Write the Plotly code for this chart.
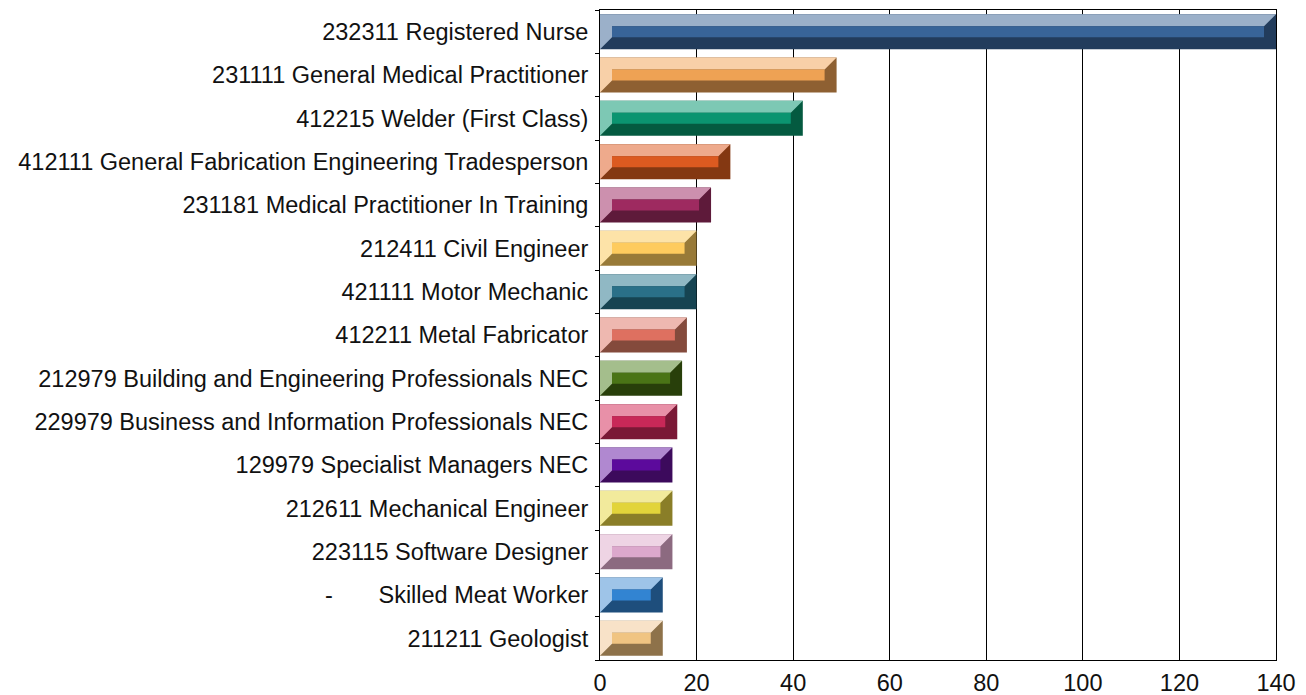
import plotly.graph_objects as go

categories = [
    "232311 Registered Nurse",
    "231111 General Medical Practitioner",
    "412215 Welder (First Class)",
    "412111 General Fabrication Engineering Tradesperson",
    "231181 Medical Practitioner In Training",
    "212411 Civil Engineer",
    "421111 Motor Mechanic",
    "412211 Metal Fabricator",
    "212979 Building and Engineering Professionals NEC",
    "229979 Business and Information Professionals NEC",
    "129979 Specialist Managers NEC",
    "212611 Mechanical Engineer",
    "223115 Software Designer",
    "-\u00a0\u00a0\u00a0\u00a0\u00a0\u00a0\u00a0Skilled Meat Worker",
    "211211 Geologist",
]
values = [140, 49, 42, 27, 23, 20, 20, 18, 17, 16, 15, 15, 15, 13, 13]

light_colors = ["#9BB0C9", "#F8D0A8", "#7DC8B4", "#EEAA8C", "#CC90AE", "#FDE3A8", "#90B8C4", "#EEB8B0",
                "#A4BE8C", "#E890A8", "#B088D0", "#F2EA9C", "#EED4E4", "#9EC4E8", "#F8E2C8"]
main_colors = ["#386498", "#EEA254", "#0B9470", "#DC5A20", "#9E2A60", "#FECB5E", "#2A7088", "#DE7060",
               "#4A7416", "#C82858", "#5C0A9C", "#E2D43A", "#DCA8CC", "#3284D2", "#F0C482"]
dark_colors = ["#223C5C", "#8E6032", "#045A40", "#843812", "#5E1A3A", "#987A38", "#164452", "#844A3C",
               "#283F0A", "#7A1836", "#3C0A5C", "#8A7E28", "#8C6A80", "#1E4E7C", "#8E724A"]

x_max = 140
plot_w_px = 676
band_px = 43.33
bx = 12 * x_max / plot_w_px      # bevel width in data units
by = 12 / band_px                 # bevel height in data units
half = 0.404                      # half bar thickness

fig = go.Figure()
for i, (v, lc, mc, dc) in enumerate(zip(values, light_colors, main_colors, dark_colors)):
    top, bot = i - half, i + half
    fig.add_trace(go.Scatter(x=[0, v, v, 0, 0], y=[top, top, bot, bot, top], fill="toself",
                             fillcolor=dc, line=dict(width=0), mode="lines", hoverinfo="skip"))
    fig.add_trace(go.Scatter(x=[0, v, v - bx, bx, bx, 0, 0],
                             y=[top, top, top + by, top + by, bot - by, bot, top],
                             fill="toself", fillcolor=lc, line=dict(width=0), mode="lines",
                             hoverinfo="skip"))
    fig.add_trace(go.Scatter(x=[bx, v - bx, v - bx, bx, bx],
                             y=[top + by, top + by, bot - by, bot - by, top + by],
                             fill="toself", fillcolor=mc, line=dict(width=0), mode="lines",
                             hoverinfo="skip"))

# page body has an 8px default margin: size/offset the figure so the plot area lands at 600..1276 x 10..660
fig.update_layout(
    width=1298, height=687,
    margin=dict(l=592, r=30, t=2, b=35),
    paper_bgcolor="white", plot_bgcolor="white",
    showlegend=False,
    font=dict(family="Liberation Sans, Arial, sans-serif", size=23.5, color="#111111"),
)
fig.update_xaxes(range=[0, x_max], tickvals=list(range(0, 141, 20)), showgrid=True,
                 gridcolor="black", gridwidth=1, showline=True, linecolor="black", linewidth=1,
                 mirror=True, zeroline=False, ticks="", ticklabelstandoff=2, automargin=False)
fig.update_yaxes(range=[len(categories) - 0.5, -0.5], tickvals=list(range(len(categories))),
                 ticktext=categories, showgrid=False, showline=True, linecolor="black",
                 linewidth=1, mirror=True, zeroline=False, ticks="", ticklabelstandoff=6,
                 automargin=False,
                 minor=dict(tickvals=[k - 0.5 for k in range(len(categories) + 1)],
                            ticks="outside", ticklen=4, tickcolor="black"))

fig.write_html("out.html")
